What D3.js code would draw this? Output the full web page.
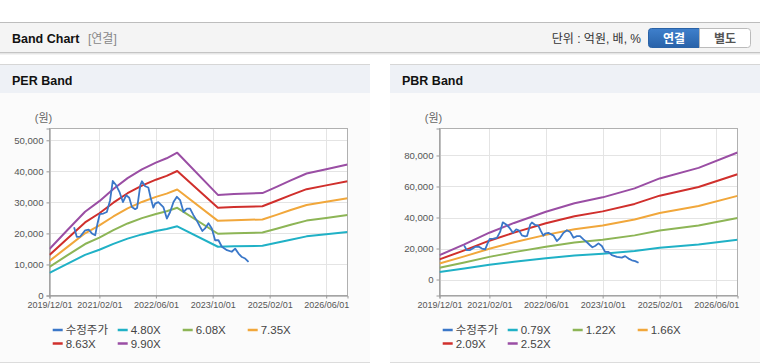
<!DOCTYPE html>
<html><head><meta charset="utf-8">
<script src="https://cdn.jsdelivr.net/npm/d3@7"></script>
<style>
html,body{margin:0;padding:0;background:#fff;}
svg{display:block;font-family:"Liberation Sans",Arial,"Noto Sans CJK KR",sans-serif;}
</style></head><body>
<svg id="c" width="760" height="364"></svg>
<script>
// ---------- DATA ----------
const xTickLabels = ["2019/12/01","2021/02/01","2022/06/01","2023/10/01","2025/02/01","2026/06/01"];
const xDomainDates = ["2019-12-01","2026-12-01"];

const perYTicks = [0,10000,20000,30000,40000,50000];
const pbrYTicks = [0,20000,40000,60000,80000];
const perYDomain = [0,53800];
const pbrYDomain = [-10300,97400];

const perLegend = ["수정주가","4.80X","6.08X","7.35X","8.63X","9.90X"];
const pbrLegend = ["수정주가","0.79X","1.22X","1.66X","2.09X","2.52X"];

// adjusted price (수정주가)
const priceDates = ["2020-06-29","2020-07-22","2020-08-20","2020-10-02","2020-11-01","2020-11-29","2020-12-27",
"2021-01-16","2021-02-04","2021-03-07","2021-04-06","2021-05-04","2021-05-27","2021-06-25","2021-07-23",
"2021-08-22","2021-09-19","2021-10-15","2021-11-07","2021-12-05","2021-12-22","2022-01-18","2022-02-01",
"2022-03-01","2022-03-28","2022-04-17","2022-05-10","2022-05-25","2022-06-22","2022-08-04","2022-09-03",
"2022-10-01","2022-10-30","2022-11-28","2022-12-26","2023-01-24","2023-02-22","2023-03-21","2023-04-19",
"2023-05-17","2023-06-15","2023-07-05","2023-07-28","2023-08-26","2023-09-24","2023-10-22","2023-11-20",
"2023-12-19","2024-02-01","2024-03-13","2024-04-11","2024-05-10","2024-06-08","2024-07-06","2024-08-04"];
const priceValues = [22000,18900,19000,21000,21200,20000,19400,
23200,26200,26400,26900,30700,36900,35500,33400,
30100,32300,31500,28500,27800,28200,35500,36800,
35200,34800,31500,28300,29600,30100,28500,24800,
26900,30100,31800,30700,26900,28000,28000,25900,
24200,22100,20800,21600,23300,21600,17800,17800,
15700,14600,14100,15100,13500,12400,11900,10800];

// PER band
const perBandDates = ["2019-12-01","2020-05-01","2020-10-01","2021-02-01","2021-06-01","2021-10-01","2022-02-01",
"2022-06-01","2022-09-01","2022-12-01","2023-11-15","2024-04-01","2024-12-01",
"2025-04-01","2025-08-01","2025-12-15","2026-06-01","2026-12-01"];
const per480 = [7270,10180,13090,14740,16630,18330,19680,20750,21430,22300,15710,15850,16000,16970,17990,19050,19730,20460];
const per608 = [9210,12900,16580,18670,21060,23210,24930,26280,27140,28250,19900,20080,20270,21490,22780,24130,24990,25920];
const per735 = [11140,15590,20040,22570,25460,28060,30140,31770,32810,34150,24050,24280,24500,25980,27540,29180,30220,31330];
const per863 = [13080,18310,23540,26500,29900,32950,35390,37310,38530,40100,28240,28500,28770,30510,32340,34260,35480,36790];
const per990 = [15000,21000,27000,30400,34300,37800,40600,42800,44200,46000,32400,32700,33000,35000,37100,39300,40700,42200];

// PBR band
const pbrBandDates = ["2019-12-01","2020-07-01","2021-02-01","2021-09-01","2022-06-01","2023-02-01","2023-10-01",
"2024-07-01","2025-02-01","2026-01-01","2026-12-01"];
const pbr079 = [4920,7120,9470,11440,13700,15420,16620,18430,20440,22570,25680];
const pbr122 = [7600,10990,14620,17670,21160,23820,25660,28470,31560,34860,39650];
const pbr166 = [10340,14950,19890,24040,28790,32410,34910,38730,42950,47430,53950];
const pbr209 = [13020,18830,25050,30270,36240,40810,43960,48770,54080,59720,67930];
const pbr252 = [15700,22700,30200,36500,43700,49200,53000,58800,65200,72000,81900];

const seriesColors = ["#3a77c8","#20b1c6","#8db556","#f1a73b","#d02f2c","#9a4ea4"];

// ---------- DRAW ----------
const parse = d3.timeParse("%Y-%m-%d");
const parseTick = d3.timeParse("%Y/%m/%d");
const svg = d3.select("#c");

// header
svg.append("rect").attr("x",0).attr("y",22).attr("width",760).attr("height",31).attr("fill","#f4f4f4");
svg.append("line").attr("x1",0).attr("x2",760).attr("y1",22.5).attr("y2",22.5).attr("stroke","#bdbdbd");
svg.append("line").attr("x1",0).attr("x2",760).attr("y1",52.5).attr("y2",52.5).attr("stroke","#c4c4c4");
svg.append("line").attr("x1",0).attr("x2",760).attr("y1",53.5).attr("y2",53.5).attr("stroke","#e6e6e6");
svg.append("line").attr("x1",0).attr("x2",760).attr("y1",54.5).attr("y2",54.5).attr("stroke","#f3f3f3");
svg.append("text").attr("x",12).attr("y",42.5).attr("font-size",12.5).attr("font-weight","bold").attr("fill","#111").text("Band Chart");
svg.append("text").attr("x",88).attr("y",42.5).attr("font-size",12).attr("fill","#888").text("[연결]");
svg.append("text").attr("x",641).attr("y",42.5).attr("font-size",12).attr("fill","#333").attr("text-anchor","end").text("단위 : 억원, 배, %");

const defs = svg.append("defs");
const gr = defs.append("linearGradient").attr("id","btn").attr("x1",0).attr("x2",0).attr("y1",0).attr("y2",1);
gr.append("stop").attr("offset","0%").attr("stop-color","#3f80cc");
gr.append("stop").attr("offset","100%").attr("stop-color","#2862a9");
svg.append("path").attr("d","M651.5,28.5 H699.5 V47.5 H651.5 Q648.5,47.5 648.5,44.5 V31.5 Q648.5,28.5 651.5,28.5 Z")
  .attr("fill","url(#btn)").attr("stroke","#2a62a6");
svg.append("path").attr("d","M699.5,28.5 H747.5 Q750.5,28.5 750.5,31.5 V44.5 Q750.5,47.5 747.5,47.5 H699.5 Z")
  .attr("fill","#fff").attr("stroke","#bbbbbb");
svg.append("text").attr("x",674).attr("y",42.5).attr("text-anchor","middle").attr("font-size",12).attr("font-weight","bold").attr("fill","#fff").text("연결");
svg.append("text").attr("x",725).attr("y",42.5).attr("text-anchor","middle").attr("font-size",12).attr("font-weight","bold").attr("fill","#555").text("별도");

function drawPanel(px, title, yDomain, yTicks, bandDates, bands, legend) {
  const g = svg.append("g").attr("transform",`translate(${px},0)`);
  g.append("rect").attr("x",0).attr("y",64).attr("width",370).attr("height",29).attr("fill","#eef1f6");
  g.append("line").attr("x1",0).attr("x2",370).attr("y1",64.5).attr("y2",64.5).attr("stroke","#d6d6d6");
  g.append("rect").attr("x",0).attr("y",93).attr("width",370).attr("height",269).attr("fill","#fbfbfb");
  g.append("line").attr("x1",0).attr("x2",370).attr("y1",362.5).attr("y2",362.5).attr("stroke","#dcdcdc");
  g.append("text").attr("x",12).attr("y",85).attr("font-size",12.5).attr("font-weight","bold").attr("fill","#111").text(title);

  const L = 49.5, T = 128.5, W = 298, H = 167;
  const x = d3.scaleTime().domain(xDomainDates.map(parse)).range([L, L+W]);
  const y = d3.scaleLinear().domain(yDomain).range([T+H, T]);

  g.append("rect").attr("x",L).attr("y",T).attr("width",W).attr("height",H).attr("fill","#ffffff");
  // grid
  const xt = xTickLabels.map(parseTick);
  g.append("g").selectAll("line").data(xt).join("line")
    .attr("x1",d=>Math.round(x(d))+0.5).attr("x2",d=>Math.round(x(d))+0.5).attr("y1",T).attr("y2",T+H).attr("stroke","#e4e4e4");
  g.append("g").selectAll("line").data(yTicks).join("line")
    .attr("x1",L).attr("x2",L+W).attr("y1",d=>Math.round(y(d))+0.5).attr("y2",d=>Math.round(y(d))+0.5).attr("stroke","#e4e4e4");
  g.append("rect").attr("x",L).attr("y",T).attr("width",W).attr("height",H).attr("fill","none").attr("stroke","#b0b0b0");

  // axes
  const yAxis = d3.axisLeft(y).tickValues(yTicks).tickFormat(d3.format(",")).tickSize(3).tickPadding(3);
  const ya = g.append("g").attr("transform",`translate(${L},0)`).call(yAxis);
  ya.select(".domain").attr("stroke","#999");
  ya.selectAll(".tick line").attr("stroke","#999");
  ya.selectAll(".tick text").attr("font-size",9.6).attr("fill","#555").attr("font-family","Liberation Sans, Arial, sans-serif");
  const xAxis = d3.axisBottom(x).tickValues(xt).tickFormat(d3.timeFormat("%Y/%m/%d")).tickSize(3).tickPadding(3);
  const xa = g.append("g").attr("transform",`translate(0,${T+H})`).call(xAxis);
  xa.select(".domain").attr("stroke","#999");
  xa.selectAll(".tick line").attr("stroke","#999");
  xa.selectAll(".tick text").attr("font-size",9).attr("fill","#555").attr("font-family","Liberation Sans, Arial, sans-serif");

  g.append("text").attr("x",L-6).attr("y",122).attr("text-anchor","middle").attr("font-size",11).attr("fill","#666").text("(원)");

  // band lines
  const bd = bandDates.map(parse);
  const line = d3.line().x(d=>x(d[0])).y(d=>y(d[1]));
  const clip = "clip"+px;
  defs.append("clipPath").attr("id",clip).append("rect").attr("x",L).attr("y",T).attr("width",W).attr("height",H);
  const lg = g.append("g").attr("clip-path",`url(#${clip})`);
  bands.forEach((vals,i)=>{
    lg.append("path").attr("d",line(bd.map((d,j)=>[d,vals[j]]))).attr("fill","none")
      .attr("stroke",seriesColors[i+1]).attr("stroke-width",2).attr("stroke-linejoin","round");
  });
  const pd = priceDates.map(parse);
  lg.append("path").attr("d",line(pd.map((d,j)=>[d,priceValues[j]]))).attr("fill","none")
    .attr("stroke",seriesColors[0]).attr("stroke-width",1.8).attr("stroke-linejoin","round");

  // legend
  legend.forEach((name,i)=>{
    const col = i%4, row = Math.floor(i/4);
    const lx = 52.7 + col*65, ly = 330 + row*13.5;
    g.append("line").attr("x1",lx).attr("x2",lx+10).attr("y1",ly).attr("y2",ly).attr("stroke",seriesColors[i]).attr("stroke-width",2.5);
    g.append("text").attr("x",lx+13).attr("y",ly+4).attr("font-size",11.5).attr("fill","#444").text(name);
  });
}

drawPanel(0, "PER Band", perYDomain, perYTicks, perBandDates, [per480,per608,per735,per863,per990], perLegend);
drawPanel(390, "PBR Band", pbrYDomain, pbrYTicks, pbrBandDates, [pbr079,pbr122,pbr166,pbr209,pbr252], pbrLegend);
</script>
</body></html>
